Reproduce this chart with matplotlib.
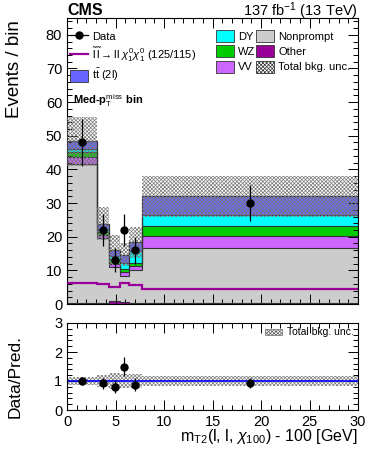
import numpy as np
import matplotlib
matplotlib.use("Agg")
import matplotlib.pyplot as plt
from matplotlib.patches import Patch
from matplotlib.lines import Line2D
from matplotlib.ticker import MultipleLocator

# ---------------- data ----------------
edges = [0, 3.05, 4.35, 5.45, 6.4, 7.7, 30]
other = [0.2, 0.2, 0.8, 0.6, 0.2, 0.3]
nonprompt = [41.5, 19.3, 10.2, 7.8, 9.8, 16.2]
vv = [2.0, 1.0, 1.0, 1.2, 1.2, 3.8]
wz = [1.5, 0.9, 1.0, 0.8, 1.1, 2.8]
dy = [0.9, 0.6, 1.3, 1.9, 3.5, 3.3]
tt = [2.3, 1.9, 1.8, 2.4, 2.5, 5.6]
unc = [7.3, 5.0, 4.4, 3.3, 4.5, 6.0]
signal = [6.3, 6.0, 5.1, 6.3, 5.5, 4.5]
data = [48, 22, 13, 22, 16, 30]

plt.rcParams['font.family'] = ['Liberation Sans', 'DejaVu Sans']
plt.rcParams['mathtext.fontset'] = 'custom'
plt.rcParams['mathtext.rm'] = 'Liberation Sans'
plt.rcParams['mathtext.it'] = 'Liberation Sans:italic'
plt.rcParams['hatch.color'] = '#7a7a7a'
plt.rcParams['hatch.linewidth'] = 0.5

HATCH = 'xxxxxxxxx'
edges_a = np.array(edges, dtype=float)
centers = 0.5 * (edges_a[:-1] + edges_a[1:])
comps = [("Other", other, '#990099'),
         ("Nonprompt", nonprompt, '#cccccc'),
         ("VV", vv, '#cc66ff'),
         ("WZ", wz, '#00cc00'),
         ("DY", dy, '#00ffff'),
         ("tt", tt, '#6666ff')]

W, H = 374, 453
fig = plt.figure(figsize=(W / 100, H / 100), dpi=100)
ax = fig.add_axes([67 / W, 1 - 304 / H, (358 - 67) / W, (304 - 18) / H])
rax = fig.add_axes([67 / W, 1 - 410 / H, (358 - 67) / W, (410 - 323) / H])

base = np.zeros(len(data))
for name, vals, col in comps:
    v = np.array(vals, dtype=float)
    ax.stairs(base + v, edges_a, baseline=base.copy(), fill=True,
              facecolor=col, edgecolor='none', zorder=1)
    ax.stairs(base + v, edges_a, baseline=None, color='#333333', lw=0.8, zorder=2)
    base = base + v
total = base.copy()
unc_a = np.array(unc, dtype=float)

ax.stairs(total + unc_a, edges_a, baseline=total - unc_a, fill=True,
          facecolor='none', edgecolor='#7a7a7a', hatch=HATCH, lw=0, zorder=3)
ax.stairs(total, edges_a, baseline=0, fill=False, color='#333333', lw=0.8, zorder=2)
ax.stairs(signal, edges_a, baseline=None, color='#990099', lw=1.6, zorder=4)

data_a = np.array(data, dtype=float)
ax.errorbar(centers, data_a, yerr=np.sqrt(data_a), fmt='o', color='black',
            ms=5, lw=0.9, capsize=0, zorder=5)

ax.set_xlim(0, 30)
ax.set_ylim(0, 85)
ax.set_xticklabels([])

for a in (ax, rax):
    a.tick_params(which='both', direction='in', top=True, right=True, labelsize=10.5)
    a.tick_params(which='major', length=7, width=0.7)
    a.tick_params(which='minor', length=3.5, width=0.7)
    a.xaxis.set_major_locator(MultipleLocator(5))
    a.xaxis.set_minor_locator(MultipleLocator(1))
    for s in a.spines.values():
        s.set_linewidth(0.8)
ax.yaxis.set_major_locator(MultipleLocator(10))
ax.yaxis.set_minor_locator(MultipleLocator(2))
rax.yaxis.set_major_locator(MultipleLocator(1))
rax.yaxis.set_minor_locator(MultipleLocator(0.2))

# legend (three columns placed separately)
def P(c, h=None):
    return Patch(facecolor=c, edgecolor='#333333', lw=0.6, hatch=h)

cols = [
    ([Line2D([], [], color='black', marker='o', ms=5, lw=0.9),
      Line2D([], [], color='#990099', lw=1.6),
      P('#6666ff')],
     ["Data",
      r"$\tilde{\mathrm{l}}\,\tilde{\mathrm{l}}\rightarrow\mathrm{ll}\ \chi_1^0\chi_1^0$ (125/115)",
      r"t$\bar{\mathrm{t}}$ (2l)"], 70),
    ([P('#00ffff'), P('#00cc00'), P('#cc66ff')], ["DY", "WZ", "VV"], 216),
    ([P('#cccccc'), P('#990099'), P('white', HATCH)],
     ["Nonprompt", "Other", "Total bkg. unc."], 256),
]
legs = []
for hs, ls, xpx in cols:
    leg = ax.legend(hs, ls, loc='upper left',
                    bbox_to_anchor=((xpx - 67) / 291, (304 - 30) / 286),
                    frameon=False, fontsize=8, handlelength=1.6, handleheight=1.25,
                    handletextpad=0.4, labelspacing=0.33, borderaxespad=0,
                    borderpad=0)
    legs.append(leg)
for leg in legs[:-1]:
    ax.add_artist(leg)

ax.text(0.02, 0.71, r"Med-p$_\mathrm{T}^\mathrm{miss}$ bin", transform=ax.transAxes,
        fontsize=8, ha='left', va='center', fontweight='bold')

# ratio
ratio = data_a / total
rerr = np.sqrt(data_a) / total
runc = unc_a / total
rax.stairs(1 + runc, edges_a, baseline=1 - runc, fill=True, facecolor='none',
           edgecolor='#7a7a7a', hatch=HATCH, lw=0, zorder=1)
rax.axhline(1, color='#0000ff', lw=1.2, zorder=2)
rax.errorbar(centers, ratio, yerr=rerr, fmt='o', color='black', ms=5, lw=0.9,
             capsize=0, zorder=3)
rax.set_xlim(0, 30)
rax.set_ylim(0, 3)
rax.legend([Patch(facecolor='white', edgecolor='#555555', lw=0.4, hatch=HATCH)],
           ["Total bkg. unc."], loc='upper right', frameon=False, fontsize=7.5,
           handlelength=1.6, handleheight=0.5, handletextpad=0.5,
           bbox_to_anchor=(0.985, 0.95), borderaxespad=0, borderpad=0)

fig.text(67 / W, 1 - 15 / H, "CMS", fontsize=11.5, fontweight='bold', ha='left', va='baseline')
fig.text(358 / W, 1 - 16 / H, r"137 fb$^{-1}$ (13 TeV)", fontsize=10.5, ha='right', va='baseline')
fig.text(15 / W, 1 - 20 / H, "Events / bin", rotation=90, fontsize=13.5, ha='center', va='top')
fig.text(15 / W, 1 - 335 / H, "Data/Pred.", rotation=90, fontsize=12.5, ha='center', va='top')
fig.text(358 / W, 1 - 437 / H, r"m$_{\mathrm{T2}}$(l, l, $\chi_{100}$) - 100 [GeV]",
         fontsize=11.5, ha='right', va='center')

fig.savefig("out.png", dpi=100)
